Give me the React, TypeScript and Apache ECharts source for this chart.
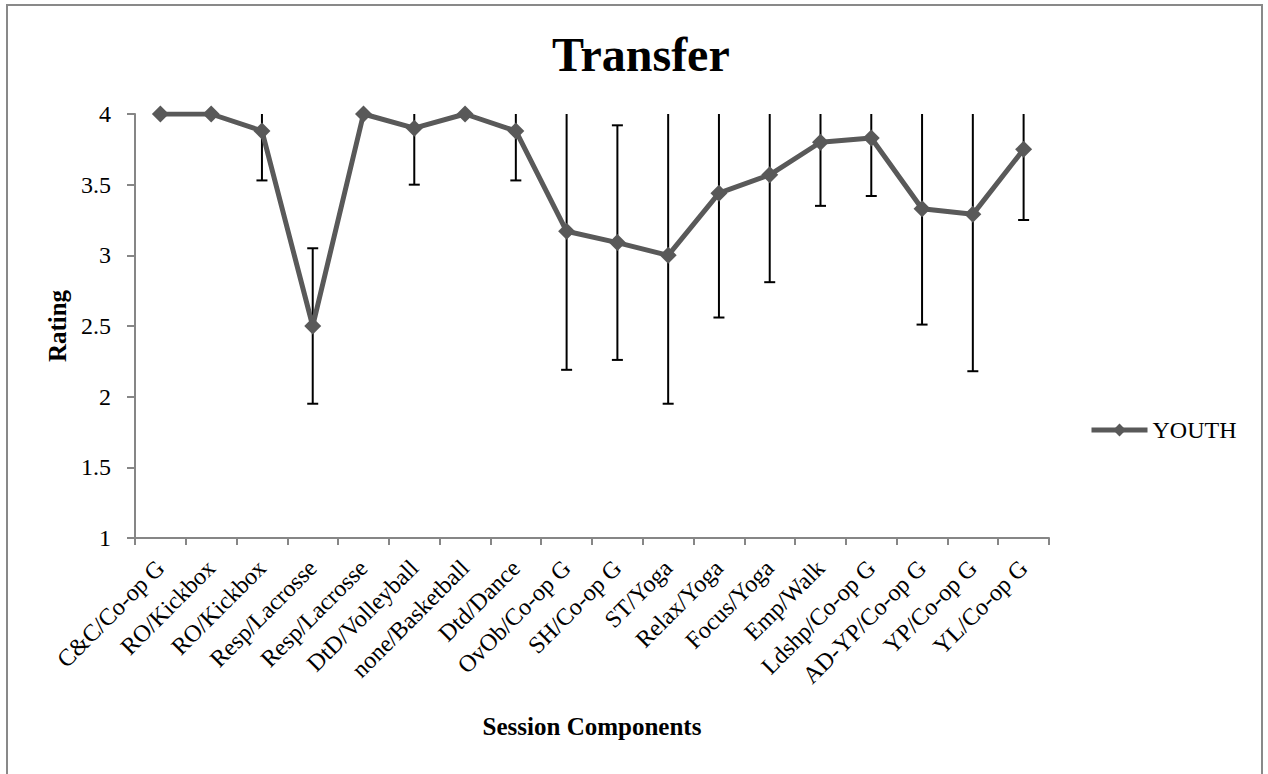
import React, { useEffect, useRef } from "react";
import * as echarts from "echarts";

const categories = [
  "C&C/Co-op G",
  "RO/Kickbox",
  "RO/Kickbox",
  "Resp/Lacrosse",
  "Resp/Lacrosse",
  "DtD/Volleyball",
  "none/Basketball",
  "Dtd/Dance",
  "OvOb/Co-op G",
  "SH/Co-op G",
  "ST/Yoga",
  "Relax/Yoga",
  "Focus/Yoga",
  "Emp/Walk",
  "Ldshp/Co-op G",
  "AD-YP/Co-op G",
  "YP/Co-op G",
  "YL/Co-op G",
];

const youthMean = [4, 4, 3.88, 2.5, 4, 3.9, 4, 3.88, 3.17, 3.09, 3.0, 3.44, 3.57, 3.8, 3.83, 3.33, 3.29, 3.75];
const youthSD = [0, 0, 0.35, 0.55, 0, 0.4, 0, 0.35, 0.98, 0.83, 1.05, 0.88, 0.76, 0.45, 0.41, 0.82, 1.11, 0.5];

const yMin = 1;
const yMax = 4;
const yInterval = 0.5;

const FONT = "'Liberation Serif', 'Times New Roman', serif";

export default function App() {
  const ref = useRef<HTMLDivElement>(null);

  useEffect(() => {
    if (!ref.current) return;
    const chart = echarts.init(ref.current, null, { renderer: "svg" });

    const errData = youthMean.map((m, i) => [i, m - youthSD[i], m + youthSD[i], youthSD[i]]);

    const option: any = {
      animation: false,
      backgroundColor: "#ffffff",
      textStyle: { fontFamily: FONT },
      grid: { left: 135, right: 219, top: 114, bottom: 236, containLabel: false },
      legend: {
        show: true,
        data: ["YOUTH"],
        left: 1089,
        top: 418,
        padding: 0,
        orient: "vertical",
        itemWidth: 56,
        itemHeight: 16,
        itemGap: 5,
        lineStyle: { width: 5, color: "#595959" },
        itemStyle: { color: "#595959" },
        textStyle: { fontFamily: FONT, fontSize: 24, color: "#000", padding: [0, 0, 0, 0] },
      },
      graphic: [
        {
          type: "rect",
          shape: { x: 7, y: 5, width: 1255, height: 800 },
          style: { fill: "none", stroke: "#898989", lineWidth: 2 },
          silent: true,
        },
        {
          type: "text",
          x: 552,
          y: 54.5,
          style: {
            text: "Transfer",
            font: `bold 48px ${FONT}`,
            fill: "#000",
            textAlign: "left",
            textVerticalAlign: "middle",
          },
        },
      ],
      xAxis: {
        type: "category",
        data: categories,
        boundaryGap: true,
        name: "Session Components",
        nameLocation: "middle",
        nameGap: 176,
        nameTextStyle: { fontFamily: FONT, fontSize: 25, fontWeight: "bold", color: "#000" },
        axisLine: { lineStyle: { color: "#868686", width: 2 } },
        axisTick: { show: true, length: 7, lineStyle: { color: "#868686", width: 2 } },
        axisLabel: {
          interval: 0,
          rotate: 45,
          margin: 26,
          fontFamily: FONT,
          fontSize: 24,
          color: "#000",
        },
        splitLine: { show: false },
      },
      yAxis: {
        type: "value",
        min: yMin,
        max: yMax,
        interval: yInterval,
        name: "Rating",
        nameLocation: "middle",
        nameGap: 63,
        nameRotate: 90,
        nameTextStyle: { fontFamily: FONT, fontSize: 25, fontWeight: "bold", color: "#000" },
        axisLine: { show: true, lineStyle: { color: "#868686", width: 2 } },
        axisTick: { show: true, inside: false, length: 8, lineStyle: { color: "#868686", width: 2 } },
        axisLabel: { margin: 24, fontFamily: FONT, fontSize: 24, color: "#000" },
        splitLine: { show: false },
      },
      series: [
        {
          name: "error",
          type: "custom",
          z: 1,
          silent: true,
          encode: { x: 0, y: [1, 2] },
          data: errData,
          clip: false,
          renderItem: (params: any, api: any) => {
            const x = api.value(0);
            const lo = api.value(1);
            const hi = api.value(2);
            const sd = api.value(3);
            if (!sd) return { type: "group", children: [] };
            const loC = Math.max(lo, yMin);
            const hiC = Math.min(hi, yMax);
            const pLo = api.coord([x, loC]);
            const pHi = api.coord([x, hiC]);
            const half = 5.5;
            const style = { stroke: "#000", lineWidth: 2 };
            const children: any[] = [
              { type: "line", shape: { x1: pLo[0], y1: pLo[1], x2: pHi[0], y2: pHi[1] }, style },
            ];
            if (lo >= yMin) {
              children.push({
                type: "line",
                shape: { x1: pLo[0] - half, y1: pLo[1], x2: pLo[0] + half, y2: pLo[1] },
                style,
              });
            }
            if (hi <= yMax) {
              children.push({
                type: "line",
                shape: { x1: pHi[0] - half, y1: pHi[1], x2: pHi[0] + half, y2: pHi[1] },
                style,
              });
            }
            return { type: "group", children };
          },
        },
        {
          name: "YOUTH",
          type: "line",
          z: 3,
          data: youthMean,
          symbol: "diamond",
          symbolSize: 17,
          showAllSymbol: true,
          lineStyle: { color: "#595959", width: 5 },
          itemStyle: { color: "#595959" },
        },
      ],
    };

    chart.setOption(option);
    return () => {
      chart.dispose();
    };
  }, []);

  return (
    <div
      ref={ref}
      style={{ position: "fixed", left: 0, top: 0, width: 1268, height: 774, background: "#fff" }}
    />
  );
}
